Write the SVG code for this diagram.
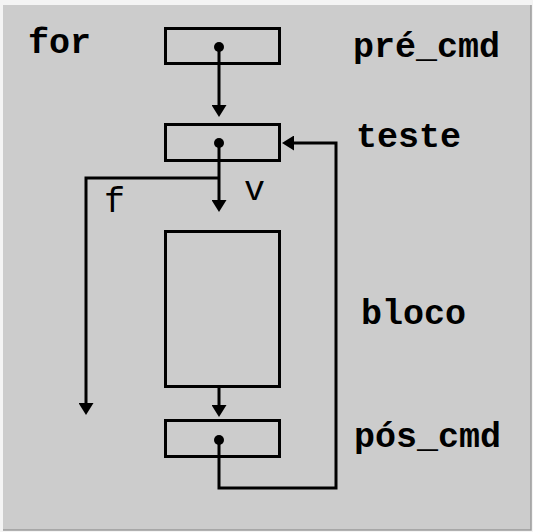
<svg xmlns="http://www.w3.org/2000/svg" width="533" height="532" viewBox="0 0 533 532">
<defs>
<style>
.box{fill:none;stroke:#000;stroke-width:3}
.con{fill:none;stroke:#000;stroke-width:3;stroke-linejoin:miter}
.dot{fill:#000}
.lbl{font-family:"Liberation Mono","Courier New",monospace;font-size:35px;font-weight:bold;fill:#000}
.sm{font-family:"Liberation Mono","Courier New",monospace;font-size:35px;fill:#000}
</style>
<marker id="arr" viewBox="0 0 12 15" refX="6" refY="7.5" markerWidth="12" markerHeight="15" markerUnits="userSpaceOnUse" orient="auto">
<path d="M0,0 L12,7.5 L0,15 Z" fill="#000"/>
</marker>
</defs>
<rect x="0" y="0" width="533" height="532" fill="#f4f4f4"/>
<rect x="3" y="5" width="528" height="525" fill="#cccccc"/>
<path d="M531,5 V530 H3" fill="none" stroke="#9a9a9a" stroke-width="1.5"/>
<text class="lbl" x="28" y="53">for</text>
<g id="pre_cmd">
<rect class="box" x="165.5" y="28.5" width="114" height="35"/>
<circle class="dot" cx="219" cy="47" r="5"/>
<text class="lbl" x="353" y="57">pré_cmd</text>
</g>
<g id="teste">
<rect class="box" x="165.5" y="124.5" width="114" height="36"/>
<circle class="dot" cx="219" cy="143" r="5"/>
<text class="lbl" x="356" y="147">teste</text>
</g>
<g id="bloco">
<rect class="box" x="165.5" y="231.5" width="114" height="155"/>
<text class="lbl" x="361" y="324">bloco</text>
</g>
<g id="pos_cmd">
<rect class="box" x="165.5" y="420.5" width="114" height="36"/>
<circle class="dot" cx="219" cy="440" r="5"/>
<text class="lbl" x="354" y="447">pós_cmd</text>
</g>
<g id="connectors">
<path class="con" d="M219,47 V111" marker-end="url(#arr)"/>
<path class="con" d="M219,143 V206" marker-end="url(#arr)"/>
<path class="con" d="M219,178 H86 V409" marker-end="url(#arr)"/>
<path class="con" d="M219,388 V411" marker-end="url(#arr)"/>
<path class="con" d="M219,440 V488 H336 V143 H288" marker-end="url(#arr)"/>
<text class="sm" x="104" y="212">f</text>
<text class="sm" x="244" y="200">v</text>
</g>
</svg>
